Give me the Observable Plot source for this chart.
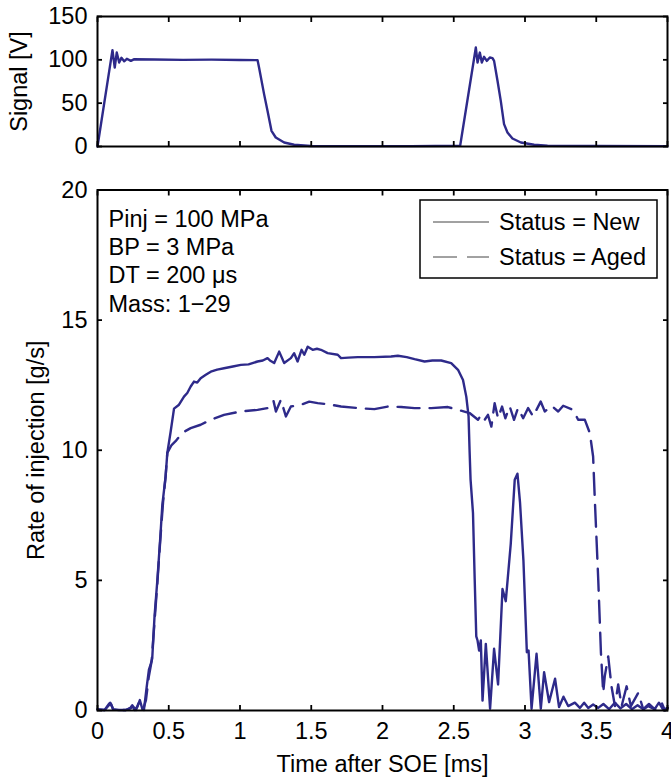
<!DOCTYPE html>
<html><head><meta charset="utf-8">
<script src="https://cdn.jsdelivr.net/npm/d3@7"></script>
<script src="https://cdn.jsdelivr.net/npm/@observablehq/plot@0.6"></script>
<style>
body{margin:0;background:#fff;}
#chart{width:671px;height:778px;}
#chart svg{display:block;}
</style></head><body><div id="chart"></div>
<script>
// ---- data ----
const sigT = [0,0.105,0.121,0.135,0.152,0.168,0.187,0.206,0.234,0.255,0.4,0.6,0.8,1.0,1.123,1.134,1.169,1.193,1.221,1.251,1.31,1.38,1.497,1.8,2.2,2.545,2.655,2.667,2.683,2.697,2.713,2.732,2.753,2.772,2.783,2.807,2.83,2.853,2.877,2.912,2.971,3.064,3.158,3.5,4.0];
const sigV = [0,111.2,91.1,108.4,96.9,102.3,98.3,101.2,98.8,100.6,100.3,99.9,100.2,99.8,99.7,91,60.4,41.2,18.1,10.4,4.6,2.0,0.6,0.4,0.4,0.8,114.2,96.9,108.4,96.9,103.5,98.8,102.7,102,98.8,75.8,52.7,25.8,16.1,9.2,4.6,2.0,0.8,0.5,0.4];

const newT = [0,0.05,0.08,0.09,0.11,0.15,0.2,0.23,0.244,0.26,0.28,0.297,0.315,0.326,0.345,0.361,0.372,0.384,0.40,0.42,0.44,0.455,0.478,0.49,0.513,0.537,0.572,0.607,0.63,0.654,0.677,0.70,0.724,0.76,0.795,0.84,0.888,0.95,1.006,1.06,1.123,1.16,1.193,1.21,1.24,1.275,1.31,1.357,1.38,1.404,1.432,1.451,1.475,1.51,1.54,1.568,1.615,1.686,1.709,1.76,1.826,1.943,2.06,2.108,2.17,2.225,2.295,2.35,2.412,2.482,2.53,2.565,2.588,2.604,2.611,2.618,2.635,2.647,2.658,2.667,2.678,2.69,2.702,2.725,2.755,2.783,2.811,2.842,2.865,2.9,2.928,2.947,2.965,2.989,3.013,3.025,3.046,3.081,3.111,3.134,3.169,3.211,3.239,3.27,3.303,3.35,3.385,3.415,3.444,3.478,3.514,3.55,3.59,3.63,3.67,3.71,3.75,3.79,3.83,3.87,3.91,3.94,3.97,4.0];
const newV = [0.05,0.02,0.25,0.3,0.05,0.02,0.02,0.1,0.2,0.02,0.15,0.4,0.05,0.02,0.9,1.57,1.75,2.0,3.6,5.0,6.6,7.9,9.0,9.9,10.7,11.6,11.75,12.06,12.2,12.45,12.64,12.6,12.77,12.9,13.02,13.1,13.15,13.22,13.28,13.3,13.41,13.45,13.54,13.45,13.35,13.79,13.35,13.54,13.73,13.41,13.86,13.67,13.98,13.86,13.9,13.86,13.73,13.67,13.54,13.56,13.58,13.58,13.6,13.63,13.58,13.5,13.41,13.45,13.45,13.35,13.09,12.7,12.06,11.3,10.0,8.87,7.59,5.03,2.85,2.69,2.3,2.69,0.38,2.56,0.07,2.37,1.0,4.67,4.2,6.4,8.87,9.1,8.0,5.76,2.24,2.3,0.07,2.18,0.07,1.47,0.32,1.22,0.13,0.53,0.17,0.3,0.1,0.3,0.1,0.23,0.1,0.25,0.05,0.3,0.08,0.25,0.05,0.2,0.05,0.25,0.05,0.3,0.02,0.1];

const agedT = [0,0.05,0.08,0.095,0.11,0.15,0.2,0.23,0.25,0.27,0.29,0.30,0.32,0.34,0.36,0.38,0.40,0.42,0.44,0.46,0.478,0.49,0.52,0.548,0.595,0.654,0.724,0.795,0.888,1.006,1.123,1.193,1.217,1.235,1.252,1.287,1.322,1.357,1.428,1.486,1.545,1.639,1.709,1.826,1.943,2.037,2.131,2.225,2.342,2.459,2.53,2.611,2.67,2.693,2.717,2.74,2.764,2.787,2.811,2.839,2.862,2.893,2.923,2.951,2.987,3.022,3.057,3.11,3.139,3.186,3.233,3.268,3.338,3.373,3.42,3.455,3.478,3.49,3.514,3.533,3.549,3.56,3.584,3.607,3.631,3.654,3.678,3.713,3.743,3.795,3.83,3.865,3.912,3.959,3.982,4.0];
const agedV = [0.03,0.02,0.2,0.25,0.04,0.02,0.02,0.08,0.15,0.02,0.3,0.35,0.04,0.4,1.3,1.9,3.4,4.9,6.5,8.0,9.0,9.9,10.2,10.35,10.67,10.85,10.98,11.17,11.36,11.49,11.55,11.62,11.75,11.9,11.49,11.94,11.3,11.68,11.75,11.87,11.81,11.75,11.68,11.62,11.58,11.68,11.66,11.62,11.62,11.66,11.55,11.43,11.17,11.36,11.17,11.36,10.91,11.81,11.23,11.68,11.23,11.68,11.17,11.62,11.23,11.62,11.3,11.87,11.49,11.71,11.49,11.71,11.55,11.17,11.17,10.66,9.76,8.1,5.03,2.21,0.68,1.32,2.08,0.93,0.17,1.0,0.17,0.93,0.17,0.68,0.04,0.17,0.04,0.3,0.0,0.1];

const xTicks = [0,0.5,1,1.5,2,2.5,3,3.5,4];
const xTickLabels = ["0","0.5","1","1.5","2","2.5","3","3.5","4"];
const sigTicks = [0,50,100,150];
const rateTicks = [0,5,10,15,20];
const notes = ["Pinj = 100 MPa","BP = 3 MPa","DT = 200 μs","Mass: 1−29"];
const statusLabels = ["Status = New","Status = Aged"];
const statusDash = [null,"22,10"];

// ---- styling ----
const lineColor = "#2e2a8a";
const font = "'Liberation Sans', Arial, Helvetica, sans-serif";
const fs = 23.5;
const lw = 2.4;
const blank = () => "";

const sig = sigT.map((t,i)=>({t, v:sigV[i]}));
const newData = newT.map((t,i)=>({t, v:newV[i]}));
const agedData = agedT.map((t,i)=>({t, v:agedV[i]}));

function frameAxes(yTicks) {
  return [
    Plot.axisY(yTicks,{tickSize:-5,tickFormat:blank,label:null,strokeWidth:1.8}),
    Plot.axisY(yTicks,{anchor:"right",tickSize:-5,tickFormat:blank,label:null,strokeWidth:1.8}),
    Plot.axisX(xTicks,{tickSize:-5,tickFormat:blank,label:null,strokeWidth:1.8}),
    Plot.axisX(xTicks,{anchor:"top",tickSize:-5,tickFormat:blank,label:null,strokeWidth:1.8}),
    Plot.frame({stroke:"black",strokeWidth:2})
  ];
}

const topPlot = Plot.plot({
  width:671, height:160, marginLeft:97, marginRight:4, marginTop:16, marginBottom:14,
  style:{fontFamily:font, fontSize:fs+"px", color:"black", background:"white", overflow:"visible"},
  x:{domain:[0,4]}, y:{domain:[0,150]},
  marks:[
    Plot.line(sig,{x:"t",y:"v",stroke:lineColor,strokeWidth:lw,strokeLinejoin:"round"}),
    Plot.axisY(sigTicks,{tickSize:0,tickPadding:10,label:"Signal [V]",labelAnchor:"center",labelArrow:"none",labelOffset:87}),
    ...frameAxes(sigTicks)
  ]
});

function legendMark(index, scales, values, dims) {
  const g = d3.create("svg:g").attr("font-family", font).attr("font-size", fs).attr("text-anchor", "start");
  const right = dims.width - dims.marginRight - 10;
  const top = dims.marginTop + 10.5;
  const w = 237, h = 78;
  const left = right - w;
  g.append("rect").attr("x", left).attr("y", top).attr("width", w).attr("height", h)
    .attr("fill", "white").attr("stroke", "black").attr("stroke-width", 1.5);
  statusLabels.forEach((lab, i) => {
    const yy = top + 22 + i * 35;
    const ln = g.append("line").attr("x1", left + 13).attr("x2", left + 69)
      .attr("y1", yy).attr("y2", yy).attr("stroke", "#444").attr("stroke-width", 1);
    if (statusDash[i]) ln.attr("stroke-dasharray", "24,10");
    g.append("text").attr("x", left + 79).attr("y", yy + 8).attr("text-anchor", "start").text(lab);
  });
  return g.node();
}

const botPlot = Plot.plot({
  width:671, height:618, marginLeft:97, marginRight:4, marginTop:29.5, marginBottom:68,
  style:{fontFamily:font, fontSize:fs+"px", color:"black", background:"white", overflow:"visible"},
  x:{domain:[0,4]}, y:{domain:[0,20]},
  marks:[
    Plot.line(newData,{x:"t",y:"v",stroke:lineColor,strokeWidth:lw,strokeLinejoin:"round"}),
    Plot.line(agedData,{x:"t",y:"v",stroke:lineColor,strokeWidth:lw,strokeLinejoin:"round",strokeDasharray:statusDash[1]}),
    Plot.axisY(rateTicks,{tickSize:0,tickPadding:10,label:"Rate of injection [g/s]",labelAnchor:"center",labelArrow:"none",labelOffset:70}),
    Plot.axisX(xTicks,{tickSize:0,tickPadding:12,tickFormat:d=>xTickLabels[xTicks.indexOf(d)],label:"Time after SOE [ms]",labelAnchor:"center",labelArrow:"none",labelOffset:61}),
    ...frameAxes(rateTicks),
    Plot.text([notes.join("\n")],{frameAnchor:"top-left",dx:11,dy:17,lineAnchor:"top",textAnchor:"start",lineHeight:1.2,fontSize:fs}),
    legendMark
  ]
});

const c = document.getElementById("chart");
c.appendChild(topPlot);
c.appendChild(botPlot);
</script></body></html>
